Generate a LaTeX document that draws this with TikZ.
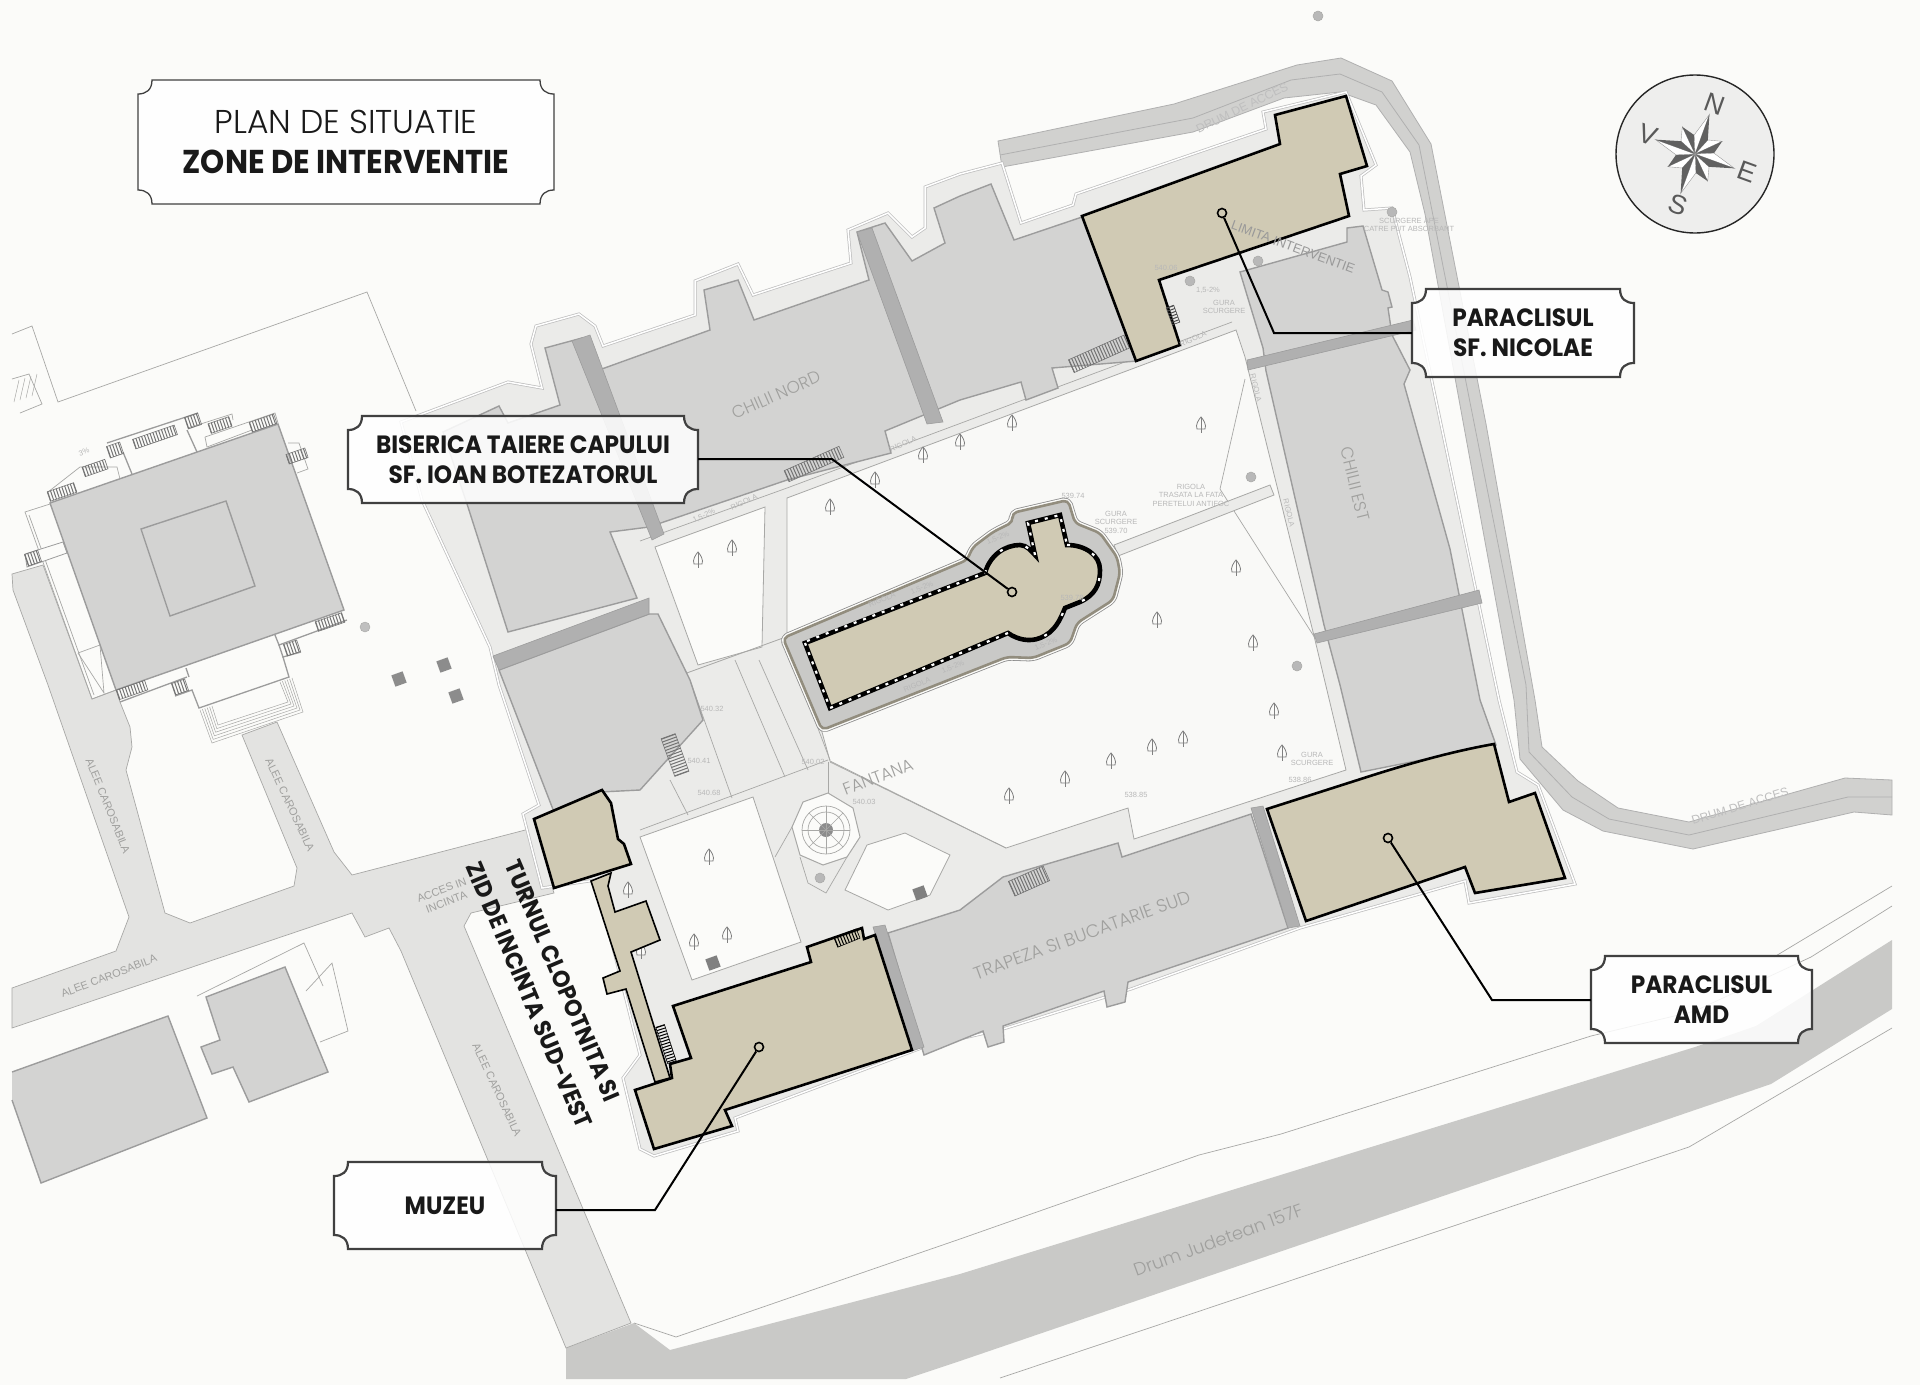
\documentclass[tikz,border=0pt]{standalone}
\usepackage{fontspec}
\setmainfont{Liberation Sans}
\newfontfamily\plaquefont[FakeStretch=0.93]{Poppins}
\newfontfamily\labelfont[FakeStretch=1.0]{Poppins Light}
\newfontfamily\lightfont[FakeStretch=1.0]{Poppins Light}
\definecolor{bgcol}{HTML}{FBFBF9}
\definecolor{bldgray}{HTML}{D3D3D2}
\definecolor{bldedge}{HTML}{9C9C9C}
\definecolor{stripgray}{HTML}{B0B0B0}
\definecolor{bandgray}{HTML}{EBEBE9}
\definecolor{courtcol}{HTML}{F9F9F7}
\definecolor{alleycol}{HTML}{E3E3E1}
\definecolor{roadcol}{HTML}{C9C9C7}
\definecolor{zonecol}{HTML}{D0CAB4}
\definecolor{thingray}{HTML}{A8A8A6}
\definecolor{labelgray}{HTML}{A0A09E}
\tikzset{
  building/.style={fill=bldgray,draw=bldedge,line width=1.4pt},
  strip/.style={fill=stripgray,draw=bldedge,line width=.6pt},
  zone/.style={fill=zonecol,draw=black,line width=2.6pt,line join=miter},
  thin line/.style={draw=thingray,line width=.7pt},
  wall line/.style={draw=bldedge,line width=1.3pt},
  plaque/.style={fill=white,fill opacity=.86,draw=black!75,line width=2.2pt},
  plaquetext/.style={font=\plaquefont\bfseries\fontsize{25}{30}\selectfont,align=center,inner sep=0pt,text=black!90},
  titletext/.style={line width=1.3pt,font=\plaquefont\fontsize{33}{40}\selectfont},
  leader/.style={draw=black,line width=2pt},
  zonedot/.style={circle,draw=black,line width=1.6pt,fill=none,minimum size=9pt,inner sep=0pt},
  graytext/.style={font=\labelfont,text=labelgray,inner sep=0pt,align=center},
  smalltext/.style={font=\fontsize{7.5}{8.5}\selectfont,text=black!28,inner sep=0pt,align=center},
  treemark/.pic={\draw[black!50,fill=bgcol,line width=.8pt] (-4,4) .. controls (-6,0) and (-2,-6) .. (0,-8) .. controls (2,-6) and (6,0) .. (4,4) -- cycle; \draw[black!50,line width=.7pt] (0,-8) -- (0,8);}
}
\newcommand{\plaque}[7][]{%
  \path[plaque,#1] ({#3+14},#4) -- ({#5-14},#4) .. controls ({#5-14},{#4+10}) and ({#5-8},{#4+14}) .. (#5,{#4+14}) -- (#5,{#6-14}) .. controls ({#5-8},{#6-14}) and ({#5-14},{#6-10}) .. ({#5-14},#6) -- ({#3+14},#6) .. controls ({#3+14},{#6-10}) and ({#3+8},{#6-14}) .. (#3,{#6-14}) -- (#3,{#4+14}) .. controls ({#3+8},{#4+14}) and ({#3+14},{#4+10}) .. ({#3+14},#4) -- cycle;
  \node[plaquetext,#1,minimum width={(#5-#3)*1pt},minimum height={(#6-#4)*1pt}] (#2) at ({(#3+#5)/2},{(#4+#6)/2}) {#7};
}
\newcommand{\stairs}[6][black!55]{%
  \begin{scope}[shift={(#2,#3)},rotate=#4]
    \draw[#1,line width=#6 pt,dash pattern=on 1pt off 2pt] ({-#5/2},0) -- ({#5/2},0);
    \draw[#1,line width=.6pt] ({-#5/2},{-#6/2}) rectangle ({#5/2},{#6/2});
  \end{scope}
}
\def\churchwall{(805,643) -- (985,573) .. controls (990,555) and (1005,545) .. (1020,545) .. controls (1027,545) and (1032,552) .. (1035,555) -- (1028,523) -- (1060,515) -- (1067,545) .. controls (1085,545) and (1100,555) .. (1100,570) .. controls (1100,585) and (1095,595) .. (1080,602) -- (1065,608) .. controls (1060,620) and (1055,632) .. (1040,638) .. controls (1030,642) and (1018,640) .. (1008,633) -- (937,663) -- (830,708) -- cycle}
\def\churchring{(783,638) -- (967,560) -- (973,547) -- (993,532) -- (1013,522) -- (1012,513) -- (1068,500) -- (1075,523) -- (1100,533) -- (1117,557) -- (1120,573) -- (1113,600) -- (1077,623) -- (1070,643) -- (1033,658) -- (1007,657) -- (822,730) -- cycle}
\def\precinct{(401,422) -- (508,382) -- (542,388) -- (531,344) -- (536,326) -- (579,314) -- (595,326) -- (603,346) -- (695,315) -- (695,281) -- (738,264) -- (753,295) -- (851,263) -- (848,230) -- (888,213) -- (912,237) -- (925,228) -- (925,187) -- (960,174) -- (1002,163) -- (1021,223) -- (1073,205) -- (1076,194) -- (1266,129) -- (1263,112) -- (1346,92) -- (1376,165) -- (1361,176) -- (1364,210) -- (1392,208) -- (1410,277) -- (1499,700) -- (1517,772) -- (1538,785) -- (1575,884) -- (1469,903) -- (1465,881) -- (1300,928) -- (1131,989) -- (1003,1029) -- (924,1047) -- (735,1118) -- (738,1131) -- (654,1156) -- (640,1149) -- (623,1078) -- (640,1055) -- (596,880) -- (542,888) -- (523,814) -- (539,805) -- (499,685) -- (490,647) -- (422,500) -- cycle}
\begin{document}
\begin{tikzpicture}[x=1pt,y=-1pt]
\useasboundingbox (0,0) rectangle (1920,1385);
\fill[bgcol] (0,0) rectangle (1920,1385);

%Drum judetean
\fill[roadcol] (566,1348) -- (634,1323) -- (670,1350) -- (960,1274) -- (1695,1047) -- (1756,1026) -- (1892,940) -- (1892,1009) -- (1771,1084) -- (960,1361) -- (906,1379) -- (566,1379) -- cycle;
\draw[thin line] (634,1323) -- (676,1337) -- (960,1239) -- (1199,1155) -- (1281,1134) -- (1591,1036) -- (1695,1011) -- (1811,957) -- (1892,906);
\draw[thin line] (1774,957) -- (1892,886);
\draw[thin line] (1000,1378) -- (1689,1147) -- (1892,1028);

%Drum de acces
\fill[roadcol!85!white,draw=stripgray,line width=.8pt] (998,141) -- (1174,104) -- (1297,65) -- (1341,58) -- (1392,81) -- (1431,144) -- (1486,424) -- (1535,700) -- (1542,747) -- (1578,781) -- (1618,808) -- (1689,822) -- (1845,778) -- (1892,780) -- (1892,815) -- (1854,812) -- (1693,849) -- (1603,831) -- (1563,810) -- (1520,759) -- (1514,700) -- (1425,214) -- (1410,152) -- (1376,105) -- (1340,92) -- (1284,98) -- (1193,132) -- (1002,167) -- cycle;
\draw[stripgray,line width=.8pt] (1000,155) -- (1193,118) -- (1291,80) -- (1340,74) -- (1382,92) -- (1419,145) -- (1526,685) -- (1529,752) -- (1572,797) -- (1609,819) -- (1689,835) -- (1848,797) -- (1892,797);

%Alei
\fill[alleycol,draw=thingray,line width=.7pt] (12,574) -- (13,590) -- (48,685) -- (129,917) -- (116,951) -- (12,988) -- (12,1028) -- (352,913) -- (365,937) -- (389,928) -- (401,951) -- (566,1348) -- (631,1323) -- (464,926) -- (471,913) -- (554,893) -- (533,828) -- (352,875) -- (334,852) -- (277,722) -- (242,735) -- (297,868) -- (294,886) -- (190,923) -- (165,913) -- (126,770) -- (132,747) -- (130,727) -- (120,702) -- (116,690) -- (92,699) -- (43,565) -- cycle;

%Lot vest
\draw[thin line] (12,334) -- (32,326) -- (58,402) -- (367,292) -- (416,411);
\draw[thin line] (12,379) -- (29,374) -- (42,404) -- (20,413);
\foreach \q in {0,1,2,3} \draw[thingray,line width=.5pt] ({14+\q*6},{402-\q*2}) -- ({19+\q*6},{380-\q*2});
\path[building] (12,1072) -- (168,1016) -- (207,1118) -- (41,1183) -- (12,1100);
\path[building] (206,997) -- (285,967) -- (328,1072) -- (249,1102) -- (233,1067) -- (212,1074) -- (201,1047) -- (220,1040) -- cycle;
\draw[thin line] (197,996) -- (304,943) -- (323,986);
\draw[thin line] (306,991) -- (332,963) -- (348,1031) -- (320,1042);

%Cladire vest
\draw[thin line] (50,504) -- (25,512) -- (92,699) -- (116,690);
\draw[thin line] (29,515) -- (94,695);
\draw[thin line] (78,653) -- (100,645);
\draw[thin line] (78,653) -- (104,693) -- (100,645);
\path[fill=bgcol,draw=bldedge,line width=.8pt] (25,554) -- (63,542) -- (67,553) -- (27,567) -- cycle;
\draw[wall line] (107,443) -- (198,413);
\draw[wall line] (123,452) -- (132,474);
\draw[wall line] (187,430) -- (197,452);
\draw[thin line] (188,428) -- (232,414) -- (233,420);
\draw[thin line] (205,437) -- (275,413) -- (278,423);
\draw[thin line] (205,437) -- (207,447) -- (252,430);
\draw[thin line] (48,492) -- (80,467) -- (117,467) -- (120,479);
\draw[thin line] (288,443) -- (299,443) -- (308,469) -- (297,473);
\draw[wall line] (275,635) -- (279,645) -- (347,620);
\draw[wall line] (279,645) -- (283,657) -- (301,652);
\draw[wall line] (283,657) -- (289,677) -- (199,708) -- (192,690) -- (175,696);
\draw[wall line] (186,668) -- (189,677);
\draw[wall line] (120,702) -- (187,677);
\foreach \k in {0,.2,.4,.6,.8,1}
  \draw[thingray,line width=.5pt] ({200+12*\k},{710-4*\k}) -- ({212+6*\k},{743-18*\k}) -- ({303-15*\k},{712-10*\k}) -- ({292-12*\k},{678+4*\k});
\path[building] (50,503) -- (278,424) -- (344,610) -- (116,690) -- cycle;
\path[building] (141,529) -- (226,501) -- (255,586) -- (170,616) -- cycle;
\stairs{62}{492}{19}{28}{10}
\stairs{95}{468}{19}{24}{10}
\stairs{115}{450}{19}{14}{12}
\stairs{155}{437}{19}{44}{10}
\stairs{193}{421}{19}{14}{12}
\stairs{220}{425}{19}{22}{10}
\stairs{263}{423}{19}{26}{10}
\stairs{297}{456}{19}{20}{10}
\stairs{330}{622}{19}{28}{10}
\stairs{292}{648}{19}{14}{12}
\stairs{132}{690}{19}{30}{10}
\stairs{180}{687}{19}{14}{12}
\stairs{33}{558}{19}{14}{12}
\foreach \x/\y in {444/665,399/679,456/696} \fill[black!45,rotate around={20:(\x,\y)}] ({\x-6},{\y-6}) rectangle ({\x+6},{\y+6});
\fill[black!25,draw=thingray] (365,627) circle[radius=5];

%Incinta
\fill[bandgray] \precinct;
\draw[black!25,line width=3pt] \precinct;
\draw[white,line width=1.5pt] \precinct;

%Curti
\path[fill=courtcol,draw=thingray,line width=.8pt] (787,498) -- (1236,330) -- (1245,357) -- (1315,640) -- (1346,770) -- (1134,839) -- (1128,808) -- (1006,848) -- (830,761) -- (822,732) -- (787,640) -- cycle;
\draw[thin line] (640,541) -- (787,488) -- (1232,322);
\path[fill=bgcol,draw=thingray,line width=.8pt] (655,547) -- (765,507) -- (762,647) -- (698,665) -- cycle;
\path[fill=bgcol,draw=thingray,line width=.8pt] (640,837) -- (753,797) -- (801,942) -- (692,980) -- cycle;
\path[fill=bgcol,draw=thingray,line width=.8pt] (845,890) -- (867,845) -- (905,833) -- (950,855) -- (930,895) -- (888,910) -- cycle;
\draw[thin line] (640,830) -- (828,760);
\draw[thin line] (830,762) -- (1006,848);
\draw[thin line] (828,762) -- (828,793);
\draw[thin line] (792,827) -- (775,857);
\draw[thin line] (800,857) -- (808,883) -- (826,893) -- (847,857);
\draw[thin line] (690,680) -- (732,798);
\draw[thin line] (670,780) -- (688,815);
\draw[thin line] (735,660) -- (785,777);
\draw[thin line] (759,660) -- (808,770);
\draw[thin line] (792,660) -- (830,760);
\draw[thin line] (1245,379) -- (1220,489) -- (1315,638);
\path[fill=bandgray,draw=thingray,line width=.8pt] (1114,545) -- (1270,485) -- (1274,495) -- (1118,556) -- cycle;
\draw[thingray,line width=.8pt] (640,690) -- (783,638);

%Corpuri de chilii
\path[building] (545,348) -- (582,338) -- (599,370) -- (710,330) -- (704,290) -- (738,280) -- (754,320) -- (869,280) -- (857,232) -- (885,223) -- (912,261) -- (945,243) -- (934,208) -- (960,196) -- (991,184) -- (1014,240) -- (1085,216) -- (1137,361) -- (1052,368) -- (1058,388) -- (1026,400) -- (1021,382) -- (960,400) -- (885,431) -- (891,453) -- (787,480) -- (649,527) -- (610,532) -- (637,598) -- (508,632) -- (468,507) -- (443,432) -- (499,406) -- (508,423) -- (560,405) -- cycle;
\path[building] (499,670) -- (649,614) -- (658,614) -- (690,680) -- (703,720) -- (640,790) -- (600,792) -- (554,812) -- cycle;
\path[strip] (572,341) -- (590,335) -- (664,534) -- (652,540) -- cycle;
\path[strip] (857,232) -- (872,228) -- (943,422) -- (927,424) -- cycle;
\path[strip] (493,656) -- (649,598) -- (649,614) -- (499,670) -- cycle;
\path[building] (1240,272) -- (1347,242) -- (1347,228) -- (1363,226) -- (1382,290) -- (1388,292) -- (1392,307) -- (1388,308) -- (1392,335) -- (1410,370) -- (1404,384) -- (1450,549) -- (1480,700) -- (1496,745) -- (1361,772) -- (1340,685) -- (1324,625) -- (1266,371) -- (1263,348) -- cycle;
\path[strip] (1247,360) -- (1413,320) -- (1416,330) -- (1248,370) -- cycle;
\path[strip] (1314,634) -- (1479,590) -- (1482,603) -- (1317,643) -- cycle;
\path[building] (888,933) -- (960,910) -- (1003,877) -- (1118,843) -- (1122,857) -- (1251,814) -- (1288,928) -- (1128,982) -- (1125,1002) -- (1107,1007) -- (1104,991) -- (1003,1026) -- (1004,1042) -- (988,1047) -- (983,1031) -- (924,1055) -- cycle;
\path[strip] (873,927) -- (885,925) -- (924,1047) -- (912,1051) -- cycle;
\path[strip] (1251,808) -- (1263,806) -- (1300,926) -- (1288,928) -- cycle;
\stairs{1101}{353}{24}{65}{14}
\stairs{814}{464}{24}{60}{12}
\stairs{1029}{881}{24}{38}{16}
\stairs{675}{755}{-70}{40}{15}

%Fantana
\path[fill=bgcol,draw=thingray,line width=1pt] (828,793) -- (853,808) -- (860,837) -- (847,857) -- (823,865) -- (800,855) -- (792,827) -- (803,802) -- cycle;
\foreach \r in {24,18} \draw[thingray,line width=.7pt] (826,830) circle[radius=\r];
\fill[black!45] (826,830) circle[radius=7];
\foreach \a in {0,45,...,315} \draw[thingray,line width=.5pt] (826,830) -- ++(\a:24);

%Arbori si puncte
\foreach \x/\y in {698/560,732/548,830/507,875/480,923/455,960/442,1012/423,1201/425,1236/568,1157/620,1253/643,1274/711,1183/739,1152/747,1111/761,1065/779,1009/796,1282/753,709/857,628/890,694/942,727/935,641/951}
  \pic at (\x,\y) {treemark};
\foreach \x/\y in {1190/281,1258/261,1392/212,1251/477,1297/666,1318/16,820/878}
  \fill[black!28,draw=thingray,line width=.5pt] (\x,\y) circle[radius=5];
\foreach \x/\y in {713/963,920/893}
  \fill[black!50,rotate around={20:(\x,\y)}] ({\x-6},{\y-6}) rectangle ({\x+6},{\y+6});

%Biserica
\draw[black!45,line width=7pt,line join=round,rounded corners=5pt] \churchring;
\draw[bgcol,line width=5.4pt,line join=round,rounded corners=5pt] \churchring;
\draw[fill=roadcol,draw=black!30!zonecol,line width=2.6pt,line join=round,rounded corners=5pt] \churchring;
\draw[fill=zonecol,draw=black,line width=4.6pt,line join=miter] \churchwall;
\draw[white,line width=2.2pt,dash pattern=on 3pt off 7pt] (807,641) -- (985,573);
\draw[white,line width=2.2pt,dash pattern=on 3pt off 7pt] (1008,633) -- (937,663) -- (830,708) -- (805,643);
\draw[white,line width=2.2pt,dash pattern=on 3pt off 7pt] (1035,555) -- (1028,523) -- (1060,515) -- (1067,545);
\draw[white,line width=2.2pt,dash pattern=on 3pt off 24pt] (985,573) .. controls (990,555) and (1005,545) .. (1020,545) .. controls (1027,545) and (1032,552) .. (1035,555);
\draw[white,line width=2.2pt,dash pattern=on 3pt off 24pt] (1067,545) .. controls (1085,545) and (1100,555) .. (1100,570) .. controls (1100,585) and (1095,595) .. (1080,602) -- (1065,608) .. controls (1060,620) and (1055,632) .. (1040,638);

%Zone de interventie
\path[zone] (1346,96) -- (1275,115) -- (1280,144) -- (1082,216) -- (1136,361) -- (1180,345) -- (1159,280) -- (1349,216) -- (1340,174) -- (1367,166) -- cycle;
\path[zone] (1267,809) -- (1367,777) .. controls (1420,760) and (1460,750) .. (1494,744) -- (1509,802) -- (1535,793) -- (1565,878) -- (1475,893) -- (1465,867) -- (1306,921) -- cycle;
\path[zone,line width=1.6pt] (591,881) -- (620,971) -- (603,978) -- (607,994) -- (626,989) -- (655,1082) -- (670,1078) -- (631,952) -- (660,940) -- (646,901) -- (615,912) -- (608,886) -- (611,873) -- cycle;
\path[zone] (534,819) -- (602,790) -- (611,803) -- (618,839) -- (624,844) -- (631,864) -- (554,888) -- cycle;
\path[zone] (635,1090) -- (654,1149) -- (732,1126) -- (725,1110) -- (912,1050) -- (875,935) -- (864,939) -- (862,928) -- (807,947) -- (811,962) -- (673,1006) -- (691,1058) -- (670,1064) -- (672,1078) -- cycle;
\stairs[black]{847}{938}{22}{24}{10}
\stairs[black]{666}{1044}{-72}{38}{9}
\stairs[black!70]{1173}{315}{-70}{18}{8}

%Texte in gri
\node[graytext,rotate=24,font=\labelfont\fontsize{17}{20}\selectfont] (chiliiNord) at (776,395) {CHILII NORD};
\node[graytext,rotate=-76,font=\labelfont\fontsize{17}{20}\selectfont] (chiliiEst) at (1355,484) {CHILII EST};
\node[graytext,rotate=20,font=\labelfont\fontsize{18}{20}\selectfont] (trapeza) at (1082,935) {TRAPEZA SI BUCATARIE SUD};
\node[graytext,rotate=21,font=\labelfont\fontsize{17}{20}\selectfont] (fantana) at (878,777) {FANTANA};
\node[graytext,rotate=20,font=\labelfont\fontsize{18}{20}\selectfont] (drumJudetean) at (1218,1240) {Drum Judetean 157F};
\node[graytext,rotate=-68,font=\fontsize{11}{13}\selectfont] (aleeA) at (108,806) {ALEE CAROSABILA};
\node[graytext,rotate=-65,font=\fontsize{11}{13}\selectfont] (aleeB) at (290,805) {ALEE CAROSABILA};
\node[graytext,rotate=21,font=\fontsize{11}{13}\selectfont] (aleeC) at (109,976) {ALEE CAROSABILA};
\node[graytext,rotate=-65,font=\fontsize{11}{13}\selectfont] (aleeD) at (497,1090) {ALEE CAROSABILA};
\node[graytext,rotate=21,font=\fontsize{11}{13}\selectfont] (accesIncinta) at (444,896) {ACCES IN\\INCINTA};
\node[graytext,rotate=26,text=black!25,font=\fontsize{12}{13}\selectfont] (drumAccesA) at (1242,108) {DRUM DE ACCES};
\node[graytext,rotate=17,text=black!25,font=\fontsize{12}{13}\selectfont] (drumAccesB) at (1740,806) {DRUM DE ACCES};
\foreach \x/\y/\r/\t [count=\i] in {1191/495/0/{RIGOLA\\TRASATA LA FATA\\PERETELUI ANTIFOC},1116/522/0/{GURA\\SCURGERE\\539.70},1224/307/0/{GURA\\SCURGERE},1312/759/0/{GURA\\SCURGERE},1409/225/0/{SCURGERE APE\\CATRE PUT ABSORBANT},744/502/24/RIGOLA,903/444/24/RIGOLA,882/600/22/RIGOLA,917/685/22/RIGOLA,1193/339/24/RIGOLA,1256/388/-76/RIGOLA,1289/513/-76/RIGOLA,922/588/22/{1,5-2\%},953/667/22/{1,5-2\%},1046/644/22/{1,5-2\%},998/538/22/{1,5-2\%},1208/290/0/{1,5-2\%},704/516/24/{1,5-2\%},1073/496/0/539.74,1072/598/0/539.78,1136/795/0/538.85,1300/780/0/538.86,1166/268/0/540.06,712/709/0/540.32,699/761/0/540.41,709/793/0/540.68,813/762/0/540.02,864/802/0/540.03,84/452/20/3\%}
  \node[smalltext,rotate=\r] (small\i) at (\x,\y) {\t};
\node[smalltext,rotate=-20,font=\fontsize{13}{14}\selectfont,text=black!40] (limita) at (1293,247) {LIMITA INTERVENTIE};

%Turn si zid
\node[rotate=-67,align=center,inner sep=0pt,text=black!90,font=\plaquefont\bfseries\fontsize{24}{36}\selectfont] (turnul) at (546,988) {TURNUL CLOPOTNITA SI\\ZID DE INCINTA SUD-VEST};

%Roza vanturilor
\path[fill=black!5!bgcol,draw=black!85,line width=1.4pt] (1695,154) circle[radius=79];
\begin{scope}[shift={(1695,154)}]
\foreach \a/\l in {-25/30,65/30,155/30,245/30,-70/42,20/42,110/42,200/42} {
  \fill[white,draw=black!40,line width=.4pt] (0,0) -- (\a:\l) -- ({\a-22.5}:19) -- cycle;
  \fill[black!62] (0,0) -- (\a:\l) -- ({\a+22.5}:19) -- cycle;
}
\end{scope}
\foreach \x/\y/\t in {1715/104/N,1747/172/E,1678/205/S,1648/135/V}
  \node[rotate=-20,inner sep=0pt,text=black!65,font=\fontsize{27}{28}\selectfont] (compass\t) at (\x,\y) {\t};

%Puncte de zona
\node[zonedot] (dotBiserica) at (1012,592) {};
\node[zonedot] (dotNicolae) at (1222,213) {};
\node[zonedot] (dotAmd) at (1388,838) {};
\node[zonedot] (dotMuzeu) at (759,1047) {};
\coordinate (kneeBiserica) at (832,459);
\coordinate (kneeNicolae) at (1274,333);
\coordinate (kneeAmd) at (1492,1000);
\coordinate (kneeMuzeu) at (655,1210);

%Etichete
\plaque[titletext]{plaqueTitlu}{138}{80}{554}{204}{{\lightfont PLAN DE SITUATIE}\\{\bfseries ZONE DE INTERVENTIE}}
\plaque{plaqueBiserica}{348}{416}{698}{503}{BISERICA TAIERE CAPULUI\\SF. IOAN BOTEZATORUL}
\plaque{plaqueNicolae}{1412}{289}{1634}{377}{PARACLISUL\\SF. NICOLAE}
\plaque{plaqueAmd}{1591}{956}{1812}{1043}{PARACLISUL\\AMD}
\plaque{plaqueMuzeu}{334}{1162}{556}{1249}{MUZEU}
\draw[leader] (plaqueBiserica.east |- kneeBiserica) -- (kneeBiserica) -- (dotBiserica);
\draw[leader] (plaqueNicolae.west |- kneeNicolae) -- (kneeNicolae) -- (dotNicolae);
\draw[leader] (plaqueAmd.west |- kneeAmd) -- (kneeAmd) -- (dotAmd);
\draw[leader] (plaqueMuzeu.east |- kneeMuzeu) -- (kneeMuzeu) -- (dotMuzeu);
\end{tikzpicture}
\end{document}
